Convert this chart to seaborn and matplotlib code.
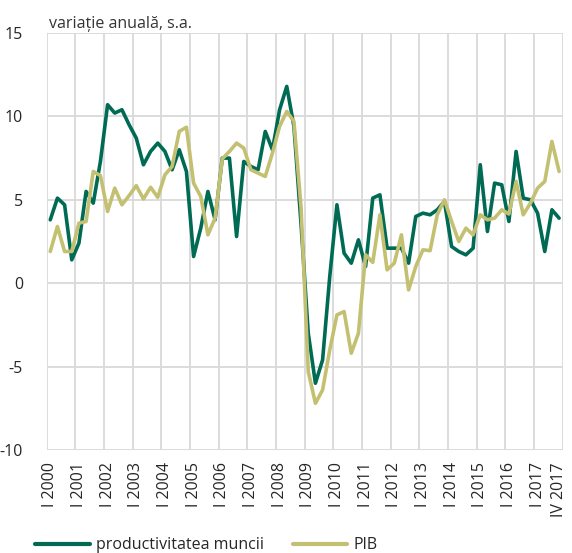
import matplotlib
matplotlib.use('Agg')
import matplotlib.pyplot as plt
from matplotlib.lines import Line2D
import numpy as np
import pandas as pd
import seaborn as sns

# quarterly data, I 2000 .. IV 2017 (annual change, s.a.)
years = list(range(2000, 2018))
quarters = ['I', 'II', 'III', 'IV']
periods = [f'{q} {y}' for y in years for q in quarters]

productivitate = [
    3.8, 5.1, 4.7, 1.4, 2.4, 5.5, 4.8, 7.3,
    10.7, 10.2, 10.4, 9.5, 8.7, 7.1, 7.9, 8.4,
    7.9, 6.8, 8.0, 6.7, 1.6, 3.3, 5.5, 3.8,
    7.5, 7.5, 2.8, 7.3, 7.0, 6.8, 9.1, 8.0,
    10.4, 11.8, 9.4, 3.5, -3.0, -6.0, -4.6, 0.4,
    4.7, 1.8, 1.2, 2.6, 1.0, 5.1, 5.3, 2.1,
    2.1, 2.1, 1.2, 4.0, 4.2, 4.1, 4.4, 4.9,
    2.2, 1.9, 1.7, 2.1, 7.1, 3.1, 6.0, 5.9,
    3.7, 7.9, 5.1, 5.0, 4.2, 1.9, 4.4, 3.9,
]
pib = [
    1.9, 3.4, 1.9, 1.9, 3.6, 3.7, 6.7, 6.45,
    4.3, 5.7, 4.7, 5.25, 5.85, 5.05, 5.75, 5.15,
    6.5, 7.0, 9.1, 9.35, 6.0, 5.2, 2.9, 3.9,
    7.45, 7.9, 8.4, 8.1, 6.8, 6.6, 6.4, 7.8,
    9.4, 10.3, 9.7, 4.5, -5.3, -7.2, -6.4, -4.0,
    -1.9, -1.7, -4.2, -3.0, 1.7, 1.25, 4.1, 0.8,
    1.2, 2.9, -0.4, 1.0, 2.0, 1.95, 4.1, 5.0,
    3.7, 2.5, 3.3, 2.9, 4.1, 3.8, 3.9, 4.4,
    4.15, 6.1, 4.1, 4.8, 5.7, 6.1, 8.5, 6.7,
]

series_names = ['productivitatea muncii', 'PIB']
tick_labels = [f'I {y}' for y in years] + ['IV 2017']
y_ticks = [-10, -5, 0, 5, 10, 15]

GREEN = '#006b54'
KHAKI = '#c4c072'
GRID = '#d9d9d9'

df = pd.DataFrame({
    'idx': list(range(len(periods))) * 2,
    'perioada': periods * 2,
    'valoare': productivitate + pib,
    'serie': [series_names[0]] * len(periods) + [series_names[1]] * len(periods),
})

sns.set_style('white')
plt.rcParams['font.family'] = ['Open Sans', 'DejaVu Sans']

fig = plt.figure(figsize=(5.72, 5.53), dpi=100)
ax = fig.add_axes([0.0816, 0.1863, 0.9021, 0.754])

sns.lineplot(data=df, x='idx', y='valoare', hue='serie',
             palette={series_names[0]: GREEN, series_names[1]: KHAKI},
             hue_order=series_names, linewidth=2.6, legend=False,
             sort=False, ax=ax, zorder=3)

n = len(periods)
ax.set_xlim(-0.5, n - 0.5)
ax.set_ylim(-10, 15)

# labels on categories, gridlines on year boundaries (Excel-style)
label_pos = [periods.index(lbl) for lbl in tick_labels]
ax.set_xticks(label_pos)
ax.set_xticklabels(tick_labels, rotation=90, fontsize=11.5)
ax.set_xticks(np.arange(-0.5, n, 4), minor=True)
ax.set_yticks(y_ticks)
ax.set_yticklabels([str(v) for v in y_ticks], fontsize=11.5)

ax.grid(which='minor', axis='x', color=GRID, linewidth=1.3)
ax.grid(which='major', axis='y', color=GRID, linewidth=1.3)
ax.grid(which='major', axis='x', visible=False)
ax.tick_params(which='both', length=0)
ax.tick_params(axis='y', pad=17)
ax.tick_params(axis='x', pad=9)
for s in ax.spines.values():
    s.set_visible(False)
ax.set_xlabel('')
ax.set_ylabel('')

fig.text(49 / 572, 1 - 28 / 553, 'variație anuală, s.a.', fontsize=11.5,
         ha='left', va='baseline', color='#333333')

handles = [Line2D([0], [0], color=GREEN, lw=3),
           Line2D([0], [0], color=KHAKI, lw=3)]
fig.legend(handles, series_names, loc='center left',
           bbox_to_anchor=(0.062, 0.014), ncol=2, frameon=False,
           fontsize=11.5, handlelength=3.4, handletextpad=0.4,
           columnspacing=1.8, borderpad=0, borderaxespad=0)

fig.savefig('out.png', dpi=100)
